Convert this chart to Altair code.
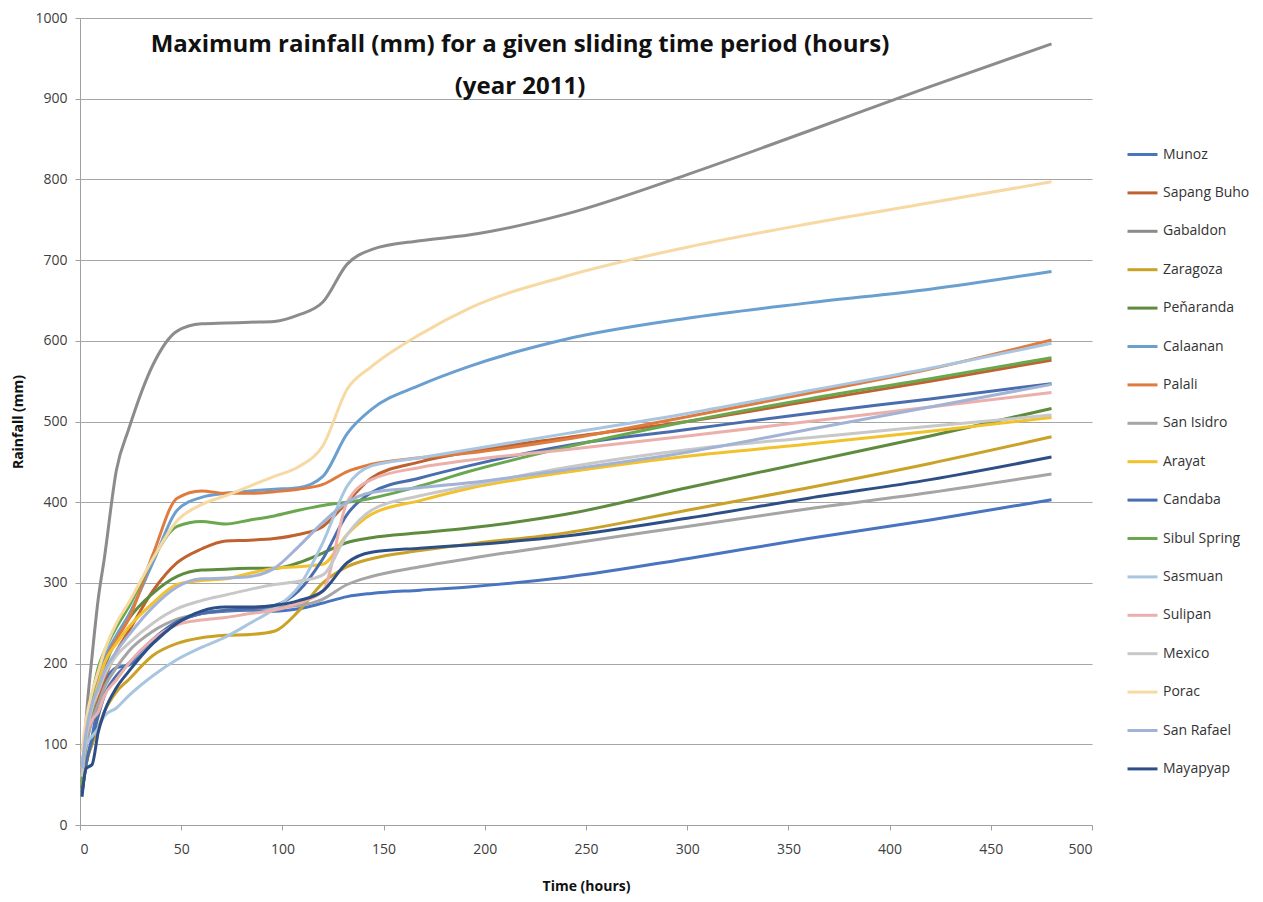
import altair as alt
import pandas as pd

hours = [1, 3, 6, 9, 12, 18, 24, 36, 48, 60, 72, 84, 96, 108, 120, 132, 144, 168, 192, 240, 300, 360, 420, 480]

stations = ["Munoz", "Sapang Buho", "Gabaldon", "Zaragoza", "Peňaranda", "Calaanan", "Palali",
            "San Isidro", "Arayat", "Candaba", "Sibul Spring", "Sasmuan", "Sulipan", "Mexico",
            "Porac", "San Rafael", "Mayapyap"]

colors = ["#4874C0", "#C0622F", "#8C8C8C", "#C9A227", "#5E8C3E", "#6A9FD0", "#E07B3F",
          "#A5A5A5", "#F2C12E", "#4A6DAE", "#6AA84F", "#A9C6E0", "#EBB0AC", "#C8C8C8",
          "#F7D9A3", "#A2B3D6", "#2E4F85"]

munoz = [40, 75, 110, 150, 175, 195, 198, 225, 250, 262, 265, 266, 265, 268, 275, 283, 287, 291, 295, 307, 330, 355, 378, 403]
sapang_buho = [45, 100, 130, 155, 180, 215, 240, 290, 325, 342, 352, 353, 355, 360, 370, 400, 430, 450, 462, 480, 500, 525, 550, 576]
gabaldon = [50, 130, 210, 280, 330, 440, 490, 570, 612, 621, 622, 623, 624, 632, 648, 695, 713, 724, 731, 757, 806, 860, 915, 968]
zaragoza = [40, 75, 100, 120, 140, 165, 180, 210, 225, 232, 235, 236, 240, 265, 300, 320, 330, 340, 348, 362, 390, 418, 448, 481]
penaranda = [45, 100, 140, 170, 195, 230, 255, 287, 308, 316, 317, 318, 318, 325, 337, 350, 356, 362, 368, 385, 418, 450, 482, 516]
calaanan = [60, 110, 150, 180, 205, 235, 260, 325, 390, 406, 411, 414, 416, 418, 432, 485, 515, 545, 568, 602, 628, 647, 664, 686]
palali = [50, 105, 145, 175, 200, 230, 255, 335, 405, 414, 411, 411, 413, 416, 422, 438, 447, 455, 461, 478, 506, 535, 565, 601]
san_isidro = [50, 95, 130, 150, 170, 195, 215, 240, 255, 262, 266, 268, 270, 272, 280, 298, 308, 320, 330, 348, 370, 392, 412, 435]
arayat = [60, 110, 150, 175, 200, 225, 245, 275, 298, 303, 305, 312, 318, 320, 323, 360, 385, 402, 417, 437, 457, 472, 488, 505]
candaba = [40, 75, 105, 135, 160, 185, 200, 230, 252, 262, 266, 268, 272, 290, 330, 385, 412, 430, 445, 470, 490, 510, 528, 547]
sibul_spring = [50, 110, 160, 195, 215, 245, 270, 330, 370, 376, 373, 378, 383, 390, 396, 400, 405, 420, 438, 468, 500, 528, 553, 579]
sasmuan = [80, 100, 110, 120, 135, 145, 160, 185, 205, 220, 233, 250, 268, 295, 350, 420, 445, 455, 465, 485, 510, 538, 566, 597]
sulipan = [70, 110, 130, 140, 160, 180, 200, 230, 248, 254, 257, 262, 266, 275, 290, 400, 428, 443, 452, 465, 482, 500, 518, 536]
mexico = [60, 110, 145, 165, 185, 210, 225, 250, 268, 278, 285, 292, 298, 302, 310, 360, 390, 408, 420, 443, 465, 480, 494, 508]
porac = [90, 130, 165, 190, 215, 250, 275, 330, 377, 397, 408, 420, 432, 444, 470, 540, 568, 608, 640, 680, 716, 745, 771, 797]
san_rafael = [70, 115, 150, 170, 190, 215, 235, 270, 295, 305, 306, 308, 318, 345, 375, 400, 412, 418, 424, 440, 462, 490, 518, 546]
mayapyap = [35, 70, 75, 115, 140, 170, 190, 225, 250, 265, 270, 270, 272, 278, 290, 325, 338, 343, 347, 358, 380, 405, 428, 456]

series = [munoz, sapang_buho, gabaldon, zaragoza, penaranda, calaanan, palali, san_isidro, arayat,
          candaba, sibul_spring, sasmuan, sulipan, mexico, porac, san_rafael, mayapyap]

rows = []
for name, vals in zip(stations, series):
    for t, v in zip(hours, vals):
        rows.append({"station": name, "time": t, "rain": v})
df = pd.DataFrame(rows)

FONT = "Open Sans, sans-serif"

chart = alt.Chart(df).mark_line(interpolate="monotone", strokeWidth=3).encode(
    x=alt.X("time:Q", title="Time (hours)",
            scale=alt.Scale(domain=[0, 500], nice=False),
            axis=alt.Axis(values=list(range(0, 501, 50)), grid=False, tickSize=5,
                          labelPadding=12, titlePadding=23)),
    y=alt.Y("rain:Q", title="Rainfall (mm)",
            scale=alt.Scale(domain=[0, 1000], nice=False),
            axis=alt.Axis(values=list(range(0, 1001, 100)), grid=True, tickSize=5, format="d",
                          labelPadding=8, titlePadding=9)),
    color=alt.Color("station:N", sort=stations,
                    scale=alt.Scale(domain=stations, range=colors),
                    legend=alt.Legend(title=None, orient="none", legendX=1046, legendY=120,
                                      symbolType="stroke", symbolSize=900, symbolStrokeWidth=3,
                                      labelFontSize=14, labelFont=FONT, labelColor="#333333",
                                      rowPadding=14.4, padding=0, labelOffset=4,
                                      labelLimit=200)),
    order=alt.Order("time:Q"),
).properties(
    width=1012, height=807,
    title=alt.TitleParams(text=["Maximum rainfall (mm) for a given sliding time period (hours)", "(year 2011)"],
                          fontSize=24, font=FONT, fontWeight="bold", color="#111111",
                          anchor="middle", dx=-66, dy=92, lineHeight=42),
    padding={"left": 72, "top": 10, "right": 163, "bottom": 75},
    autosize=alt.AutoSizeParams(type="none"),
).configure_view(stroke=None).configure_axis(
    domainColor="#A0A0A0", tickColor="#A0A0A0", gridColor="#A6A6A6", gridWidth=1.2,
    labelFont=FONT, labelFontSize=14, labelColor="#404040",
    titleFont=FONT, titleFontSize=14, titleFontWeight="bold", titleColor="#111111",
)

chart.save("out.html", embed_options={"renderer": "svg", "actions": False})
